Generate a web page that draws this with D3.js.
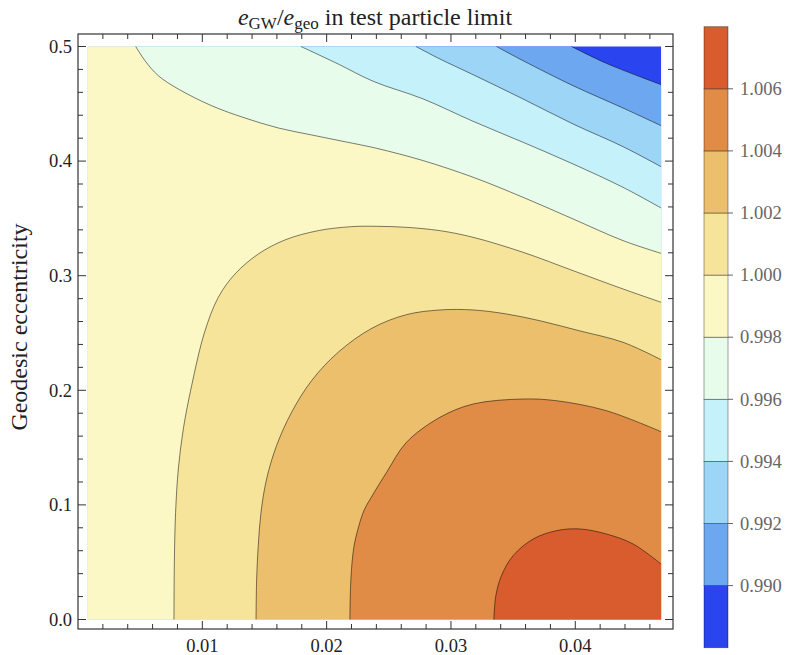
<!DOCTYPE html>
<html><head><meta charset="utf-8">
<script src="https://cdn.jsdelivr.net/npm/d3@7"></script>
</head><body style="margin:0;background:#fff"><svg id="c" width="787" height="655" style="display:block"></svg>
<script>
// ---- data ----
const cbLevels = [0.988, 0.990, 0.992, 0.994, 0.996, 0.998, 1.000, 1.002, 1.004, 1.006, 1.008];
const cbTickLabels = ["0.990","0.992","0.994","0.996","0.998","1.000","1.002","1.004","1.006"];
const bandColors = ["#2a45ef","#6da7ef","#9dd5f7","#c5f1fa","#e8fcec","#fbf8c5","#f6e49b","#ecbf6d","#e08b46","#d95c2f"];
const xTicks = [0.01, 0.02, 0.03, 0.04];
const xTickLabels = ["0.01","0.02","0.03","0.04"];
const yTicks = [0, 0.1, 0.2, 0.3, 0.4, 0.5];
const yTickLabels = ["0.0","0.1","0.2","0.3","0.4","0.5"];
const xRange = [0.0008, 0.0469];
const eRange = [0, 0.5];
// contour lines [x, e]
const c0990 = [[0.0397,0.5],[0.0425,0.4853],[0.0469,0.4667]];
const c0992 = [[0.03366,0.5],[0.0358,0.4876],[0.03982,0.4658],[0.04384,0.4463],[0.0469,0.4309]];
const c0994 = [[0.02718,0.5],[0.02911,0.4891],[0.03178,0.4754],[0.0358,0.4542],[0.03982,0.4324],[0.04384,0.4126],[0.0469,0.3951]];
const c0996 = [[0.01793,0.5],[0.02093,0.4847],[0.02375,0.4696],[0.02777,0.4542],[0.03178,0.4347],[0.0358,0.4164],[0.03982,0.3975],[0.04384,0.3771],[0.0469,0.3591]];
const c0998 = [[0.00464,0.5],[0.00539,0.4876],[0.00646,0.4745],[0.00807,0.4629],[0.01075,0.4483],[0.01343,0.4376],[0.01611,0.4289],[0.01879,0.4228],[0.02147,0.4169],[0.024,0.4112],[0.02777,0.4004],[0.03178,0.3859],[0.0358,0.3684],[0.03982,0.3495],[0.04384,0.3306],[0.0469,0.3195]];
const c1000 = [[0.00772,0],[0.00775,0.0499],[0.00785,0.0935],[0.00807,0.1313],[0.00847,0.1662],[0.00914,0.204],[0.01019,0.251],[0.01129,0.2812],[0.01263,0.3015],[0.0145,0.3189],[0.01665,0.3312],[0.01932,0.3393],[0.022,0.3428],[0.024,0.3431],[0.02642,0.3422],[0.02911,0.3393],[0.03178,0.3335],[0.0358,0.3204],[0.03982,0.3044],[0.04384,0.2884],[0.0469,0.2768]];
const c1002 = [[0.01432,0],[0.01437,0.0353],[0.0145,0.0644],[0.01472,0.0935],[0.01517,0.1226],[0.01597,0.1517],[0.01718,0.1808],[0.01879,0.2084],[0.02093,0.2332],[0.02365,0.2542],[0.02642,0.266],[0.02911,0.2701],[0.03178,0.2701],[0.03446,0.2666],[0.03715,0.2607],[0.0403,0.252],[0.04384,0.2419],[0.0469,0.2267]];
const c1004 = [[0.02187,0],[0.02195,0.0353],[0.02218,0.0624],[0.02254,0.0798],[0.02302,0.0955],[0.02375,0.1095],[0.02482,0.1284],[0.02642,0.1546],[0.02911,0.1764],[0.03178,0.188],[0.0358,0.1924],[0.03848,0.1909],[0.0425,0.1822],[0.0469,0.1639]];
const c1006 = [[0.03345,0],[0.03361,0.0208],[0.03406,0.0382],[0.035,0.0557],[0.03661,0.0702],[0.03848,0.0775],[0.04036,0.079],[0.0425,0.0746],[0.04465,0.0659],[0.0469,0.0484]];
const contours = [c0990, c0992, c0994, c0996, c0998, c1000, c1002, c1004, c1006];

// ---- layout ----
const FONT = "Liberation Serif";
const svg = d3.select("#c");
const F = {l:78, r:673, t:34, b:629};
const x = d3.scaleLinear().domain([0, 0.04786]).range([F.l, F.r]);
const y = d3.scaleLinear().domain([-0.0083, 0.5109]).range([F.b, F.t]);
const line = d3.line().x(d=>x(d[0])).y(d=>y(d[1])).curve(d3.curveCatmullRom.alpha(0.5));
function txt(sel){ return sel.append("text").attr("font-family", FONT).style("font-family", '"Liberation Serif"'); }

const g = svg.append("g");
g.append("rect").attr("x", x(xRange[0])).attr("y", y(eRange[1]))
  .attr("width", x(xRange[1]) - x(xRange[0])).attr("height", y(eRange[0]) - y(eRange[1]))
  .attr("fill", bandColors[0]);
contours.forEach((c, i) => {
  const lvl = cbLevels[i+1];
  let p = line(c);
  if (lvl < 1) {
    p += `L${x(xRange[1])},${y(eRange[0])}L${x(xRange[0])},${y(eRange[0])}L${x(xRange[0])},${y(eRange[1])}Z`;
  } else {
    p += `L${x(xRange[1])},${y(eRange[0])}Z`;
  }
  g.append("path").attr("d", p).attr("fill", bandColors[i+1]);
});
contours.forEach(c => {
  g.append("path").attr("d", line(c)).attr("fill","none")
    .attr("stroke","rgba(0,0,0,0.5)").attr("stroke-width",1);
});

// frame
svg.append("rect").attr("x",F.l).attr("y",F.t).attr("width",F.r-F.l).attr("height",F.b-F.t)
  .attr("fill","none").attr("stroke","#333").attr("stroke-width",1.2);

// ticks
const ax = svg.append("g").attr("stroke","#333").attr("stroke-width",1);
const xMinor = d3.range(1, 24).map(k => k*0.002).filter(v => !xTicks.some(t => Math.abs(t-v)<1e-9));
const yMinor = d3.range(0, 26).map(k => k*0.02).filter(v => !yTicks.some(t => Math.abs(t-v)<1e-9));
xTicks.forEach(v => {
  ax.append("line").attr("x1",x(v)).attr("x2",x(v)).attr("y1",F.b).attr("y2",F.b-8);
  ax.append("line").attr("x1",x(v)).attr("x2",x(v)).attr("y1",F.t).attr("y2",F.t+8);
});
xMinor.forEach(v => {
  ax.append("line").attr("x1",x(v)).attr("x2",x(v)).attr("y1",F.b).attr("y2",F.b-5);
  ax.append("line").attr("x1",x(v)).attr("x2",x(v)).attr("y1",F.t).attr("y2",F.t+5);
});
yTicks.forEach(v => {
  ax.append("line").attr("y1",y(v)).attr("y2",y(v)).attr("x1",F.l).attr("x2",F.l+8);
  ax.append("line").attr("y1",y(v)).attr("y2",y(v)).attr("x1",F.r).attr("x2",F.r-8);
});
yMinor.forEach(v => {
  ax.append("line").attr("y1",y(v)).attr("y2",y(v)).attr("x1",F.l).attr("x2",F.l+5);
  ax.append("line").attr("y1",y(v)).attr("y2",y(v)).attr("x1",F.r).attr("x2",F.r-5);
});
xTicks.forEach((v,i) => {
  txt(svg).attr("x",x(v)).attr("y",652).attr("text-anchor","middle")
    .attr("font-size",18.5).attr("fill","#222").text(xTickLabels[i]);
});
yTicks.forEach((v,i) => {
  txt(svg).attr("x",72).attr("y",y(v)).attr("dy","0.34em").attr("text-anchor","end")
    .attr("font-size",18.5).attr("fill","#222").text(yTickLabels[i]);
});

// axis label
txt(svg).attr("transform","translate(27,327) rotate(-90)").attr("text-anchor","middle")
  .attr("font-size",24).attr("fill","#222").text("Geodesic eccentricity");

// title
const t = txt(svg).attr("x",375).attr("y",25).attr("text-anchor","middle").attr("font-size",24).attr("fill","#222");
t.append("tspan").attr("font-style","italic").text("e");
t.append("tspan").attr("font-size",17).attr("dy",4).text("GW");
t.append("tspan").attr("dy",-4).text("/");
t.append("tspan").attr("font-style","italic").text("e");
t.append("tspan").attr("font-size",17).attr("dy",4).text("geo");
t.append("tspan").attr("dy",-4).text(" in test particle limit");

// colorbar
const cb = {x:704, w:24, t:26.7, b:647.7};
const cy = d3.scaleLinear().domain([cbLevels[0], cbLevels[cbLevels.length-1]]).range([cb.b, cb.t]);
bandColors.forEach((col,i) => {
  svg.append("rect").attr("x",cb.x).attr("width",cb.w)
    .attr("y",cy(cbLevels[i+1])).attr("height",cy(cbLevels[i])-cy(cbLevels[i+1]))
    .attr("fill",col).attr("stroke","rgba(0,0,0,0.45)").attr("stroke-width",0.8);
});
cbTickLabels.forEach((lab,i) => {
  const v = cbLevels[i+1];
  svg.append("line").attr("x1",cb.x+cb.w).attr("x2",cb.x+cb.w+5).attr("y1",cy(v)).attr("y2",cy(v))
    .attr("stroke","#666").attr("stroke-width",1);
  txt(svg).attr("x",cb.x+cb.w+12).attr("y",cy(v)).attr("dy","0.34em")
    .attr("font-size",18.5).attr("fill","#666").text(lab);
});
</script></body></html>
